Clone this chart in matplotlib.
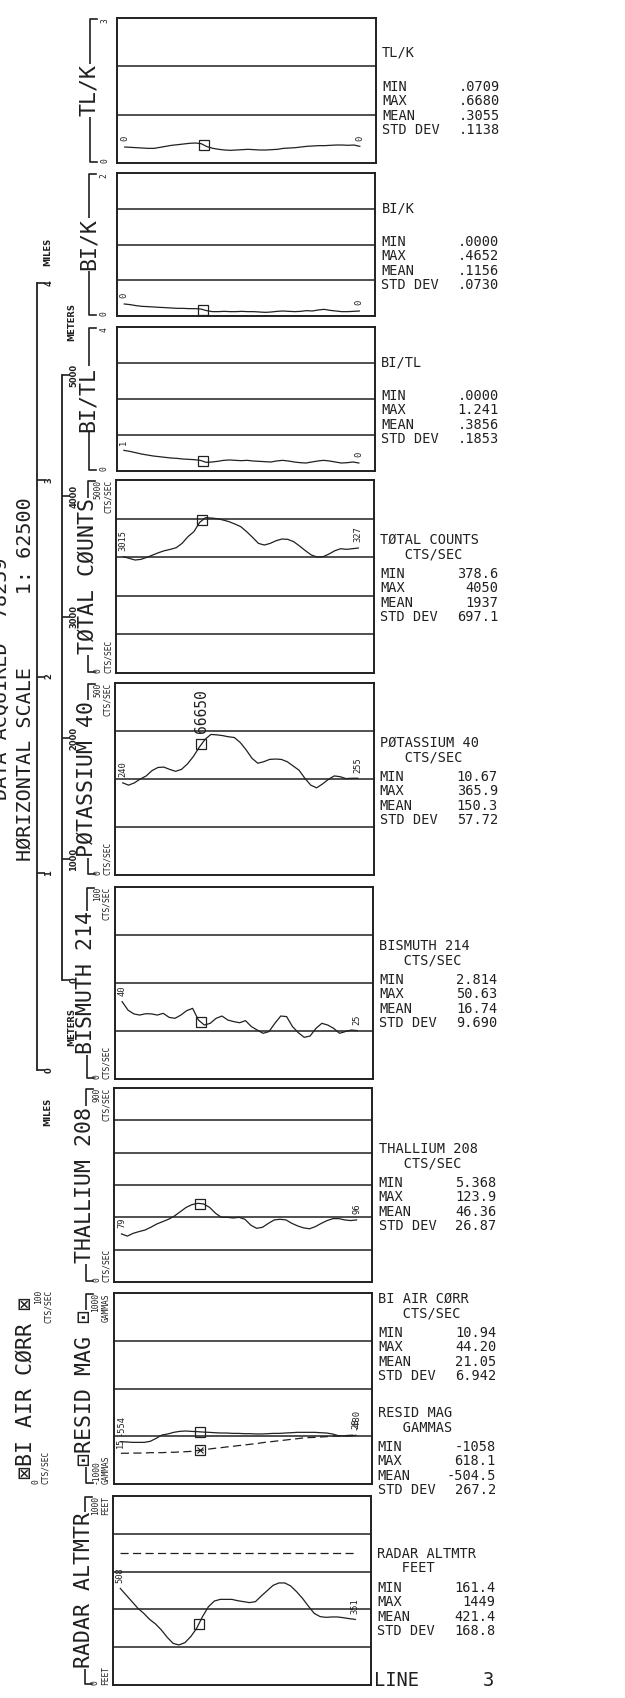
import numpy as np
import matplotlib
matplotlib.use("Agg")
import matplotlib.pyplot as plt
from matplotlib.lines import Line2D

W, H = 625, 1698
INK = '#202020'
MONO = ['DejaVu Sans Mono', 'DejaVu Sans']

# fiducial positions along the flight line (0 = first plotted sample)
fid = [0, 2.5, 5, 7.5, 10, 12.5, 15, 17.5, 20, 22.5, 25, 27.5, 30, 32.5, 35, 37.5,
       40, 42.5, 45, 47.5, 50, 52.5, 55, 57.5, 60, 62.5, 65, 67.5, 70, 72.5, 75,
       77.5, 80, 82.5, 85, 87.5, 90, 92.5, 95, 97.5, 100]
marker_fid = 33.5
marker_label = '66650'

tl_k = [.331, .324, .317, .310, .303, .303, .324, .345, .366, .379, .393, .407, .414, .400,
        .338, .303, .283, .269, .262, .269, .276, .283, .276, .269, .269, .276, .283, .303,
        .310, .317, .331, .345, .352, .359, .359, .366, .372, .372, .366, .372, .345]
bi_k = [.168, .159, .145, .135, .131, .126, .121, .117, .112, .107, .107, .103, .103, .098,
        .075, .061, .061, .065, .061, .061, .065, .061, .061, .056, .051, .056, .065, .070,
        .065, .061, .065, .075, .070, .084, .093, .079, .070, .061, .061, .065, .070]
bi_tl = [.574, .546, .509, .472, .444, .417, .398, .380, .361, .352, .333, .324, .315, .296,
         .241, .250, .269, .296, .306, .296, .287, .296, .278, .269, .259, .250, .278, .296,
         .278, .250, .231, .222, .250, .278, .296, .278, .250, .222, .231, .250, .222]
total_counts = [3013, 2970, 2927, 2944, 2996, 3056, 3117, 3168, 3203, 3246, 3358, 3531, 3660,
                3903, 4024, 4015, 3997, 3963, 3920, 3859, 3790, 3660, 3514, 3358, 3315, 3358,
                3427, 3471, 3462, 3402, 3289, 3168, 3056, 3004, 3013, 3082, 3168, 3220, 3203,
                3220, 3238]
potassium = [240, 234, 240, 250, 258, 272, 280, 281, 275, 270, 275, 289, 308, 332, 353, 366,
             365, 363, 360, 358, 345, 326, 304, 291, 295, 301, 302, 301, 295, 284, 273, 252,
             234, 227, 237, 249, 258, 256, 251, 252, 252]
bismuth = [40.3, 35.9, 33.9, 33.3, 34.0, 33.9, 33.3, 34.2, 32.1, 31.6, 33.3, 35.6, 36.8, 30.7,
           28.1, 29.0, 31.6, 32.8, 30.7, 29.9, 29.3, 30.4, 27.3, 25.5, 23.8, 24.7, 29.0, 32.8,
           32.5, 27.3, 24.1, 21.7, 22.4, 26.4, 29.0, 28.1, 26.4, 23.8, 24.7, 25.5, 25.2]
thallium = [223, 213, 226, 234, 241, 254, 269, 280, 291, 306, 326, 346, 359, 365, 362, 346,
            319, 300, 300, 297, 300, 291, 264, 249, 254, 272, 288, 291, 288, 272, 260, 251,
            247, 257, 272, 285, 294, 294, 288, 285, 288]
resid_mag = [-557, -560, -564, -564, -564, -553, -522, -487, -476, -459, -449, -445, -449,
             -452, -456, -459, -463, -466, -466, -470, -470, -473, -473, -476, -476, -473,
             -470, -470, -466, -463, -459, -459, -459, -459, -463, -466, -476, -494, -497,
             -497, -490]
bi_air = [16.1, 16.1, 16.2, 16.2, 16.2, 16.4, 16.4, 16.4, 16.6, 16.6, 16.8, 16.9, 17.1, 17.5,
          17.8, 18.3, 18.7, 19.0, 19.4, 19.7, 20.1, 20.4, 20.8, 21.1, 21.6, 22.0, 22.3, 22.7,
          23.0, 23.4, 23.7, 24.1, 24.3, 24.4, 24.6, 24.8, 25.0, 25.1, 25.3, 25.5, 25.7]
radar_alt = [511, 476, 441, 406, 379, 347, 323, 291, 252, 220, 212, 224, 256, 300, 362, 414,
             444, 453, 453, 453, 446, 441, 436, 441, 471, 499, 527, 540, 540, 524, 494, 459,
             418, 379, 362, 358, 360, 360, 356, 351, 347]
radar_ref = 700

stat_names = ['MIN', 'MAX', 'MEAN', 'STD DEV']
tl_k_stats = ['.0709', '.6680', '.3055', '.1138']
bi_k_stats = ['.0000', '.4652', '.1156', '.0730']
bi_tl_stats = ['.0000', '1.241', '.3856', '.1853']
total_stats = ['378.6', '4050', '1937', '697.1']
k40_stats = ['10.67', '365.9', '150.3', '57.72']
bi214_stats = ['2.814', '50.63', '16.74', '9.690']
tl208_stats = ['5.368', '123.9', '46.36', '26.87']
biair_stats = ['10.94', '44.20', '21.05', '6.942']
mag_stats = ['-1058', '618.1', '-504.5', '267.2']
radar_stats = ['161.4', '1449', '421.4', '168.8']

miles = [0, 1, 2, 3, 4]
meters = [0, 1000, 2000, 3000, 4000, 5000]


def skew(y):
    # the scanned sheet leans a few pixels to the left towards the bottom
    return -5.0 * (y - 18) / 1667


fig = plt.figure(figsize=(W / 100, H / 100), dpi=100)
fig.patch.set_facecolor('white')


def txt(x, y, s, **kw):
    kw.setdefault('family', MONO)
    kw.setdefault('color', INK)
    return fig.text(x / W, 1 - y / H, s, **kw)


def fig_line(xs, ys, **kw):
    fig.add_artist(Line2D([x / W for x in xs], [1 - y / H for y in ys],
                          transform=fig.transFigure, color=INK, **kw))


def make_panel(top, bot, lim, ndiv):
    s = skew((top + bot) / 2)
    left, right = 117.7 + s, 376 + s
    ax = fig.add_axes([left / W, 1 - bot / H, (right - left) / W, (bot - top) / H])
    ax.set_xlim(-3.1, 106.8)
    ax.set_ylim(*lim)
    ax.set_yticks(np.linspace(lim[0], lim[1], ndiv + 1)[1:-1])
    ax.set_xticks([])
    ax.tick_params(length=0, labelleft=False)
    ax.grid(axis='y', color=INK, lw=1.1)
    for sp in ax.spines.values():
        sp.set_linewidth(1.4)
        sp.set_color(INK)
    return ax


def profile(ax, vals, start, end, dashed=False, cross=False):
    ls = (0, (6.5, 3.5)) if dashed else '-'
    ax.plot(fid, vals, color=INK, lw=0.9, ls=ls)
    my = np.interp(marker_fid, fid, vals)
    ax.plot(marker_fid, my, 's', ms=6.5, mfc='none', mec=INK, mew=0.9)
    if cross:
        ax.plot(marker_fid, my, 'x', ms=4.5, mec=INK, mew=0.8)
    kw = dict(textcoords='offset points', rotation=90, ha='center', va='bottom',
              fontsize=6.3, family=MONO, color=INK)
    ax.annotate(start, (fid[0], vals[0]), xytext=(0, 4), **kw)
    ax.annotate(end, (fid[-1], vals[-1]), xytext=(0, 4), **kw)
    return my


def left_label(top, bot, text, top_unit, bot_unit, size=15.5):
    s = skew((top + bot) / 2)
    xl = 90 + s
    fig_line([xl + 7, xl, xl, xl + 7], [top + 1, top + 1, bot - 1, bot - 1], lw=1.2)
    txt(xl - 1, (top + bot) / 2, text, rotation=90, ha='center', va='center',
        fontsize=size, bbox=dict(fc='white', ec='none', pad=0.5))
    txt(105 + s, top, top_unit, rotation=90, ha='center', va='top', fontsize=5.7,
        multialignment='right', linespacing=1.1)
    txt(105 + s, bot, bot_unit, rotation=90, ha='center', va='bottom', fontsize=5.7,
        multialignment='left', linespacing=1.1)


def right_block(lines, stats, ty):
    s = skew(ty)
    for i, line in enumerate(lines):
        txt(382 + s, ty + 14.5 * i, line, ha='left', va='center', fontsize=9.8)
    for i, (name, val) in enumerate(zip(stat_names, stats)):
        y = ty + 34 + 14.3 * i
        txt(382 + s, y, name, ha='left', va='center', fontsize=9.8)
        txt(500 + s, y, val, ha='right', va='center', fontsize=9.8)


# ---- ratio panels
ax = make_panel(18, 163, (0, 3), 3)
profile(ax, tl_k, '0', '0')
left_label(18, 163, 'TL/K', '3', '0')

ax = make_panel(173, 316, (0, 2), 4)
profile(ax, bi_k, '0', '0')
left_label(173, 316, 'BI/K', '2', '0')

ax = make_panel(327, 471, (0, 4), 4)
profile(ax, bi_tl, '1', '0')
left_label(327, 471, 'BI/TL', '4', '0')

# ---- radiometric channels
ax = make_panel(480, 673, (0, 5000), 5)
profile(ax, total_counts, '3015', '327')
left_label(480, 673, 'TØTAL CØUNTS', '5000\nCTS/SEC', '0\nCTS/SEC')

ax = make_panel(683, 875, (0, 500), 4)
my = profile(ax, potassium, '240', '255')
ax.annotate(marker_label, (marker_fid, my), xytext=(0, 8), textcoords='offset points',
            rotation=90, ha='center', va='bottom', fontsize=10.5, family=MONO, color=INK)
left_label(683, 875, 'PØTASSIUM 40', '500\nCTS/SEC', '0\nCTS/SEC')

ax = make_panel(887, 1079, (0, 100), 4)
profile(ax, bismuth, '40', '25')
left_label(887, 1079, 'BISMUTH 214', '100\nCTS/SEC', '0\nCTS/SEC')

ax = make_panel(1088, 1282, (0, 900), 6)
profile(ax, thallium, '79', '96')
left_label(1088, 1282, 'THALLIUM 208', '900\nCTS/SEC', '0\nCTS/SEC')

# ---- magnetics + bismuth air correction
ax = make_panel(1293, 1484, (-1000, 1000), 4)
profile(ax, resid_mag, '-554', '-480')
ax2 = ax.twinx()
ax2.set_ylim(0, 100)
ax2.axis('off')
profile(ax2, bi_air, '15', '28', dashed=True, cross=True)
left_label(1293, 1484, '⊡RESID MAG ⊡', '1000\nGAMMAS', '-1000\nGAMMAS')
s8 = skew(1390)
txt(30 + s8, 1388, '⊠BI AIR CØRR ⊠', rotation=90, ha='center', va='center', fontsize=15.5)
txt(48 + s8, 1290, '100\nCTS/SEC', rotation=90, ha='center', va='top', fontsize=5.7,
    multialignment='right', linespacing=1.1)
txt(45 + s8, 1484, '0\nCTS/SEC', rotation=90, ha='center', va='bottom', fontsize=5.7,
    multialignment='left', linespacing=1.1)

# ---- radar altimeter
ax = make_panel(1496, 1685, (0, 1000), 5)
ax.plot([fid[0], fid[-1]], [radar_ref, radar_ref], color=INK, lw=0.9, ls=(0, (6.5, 3.5)))
profile(ax, radar_alt, '508', '351')
left_label(1496, 1685, 'RADAR ALTMTR', '1000\nFEET', '0\nFEET')

# ---- statistics column
right_block(['TL/K'], tl_k_stats, 53)
right_block(['BI/K'], bi_k_stats, 208)
right_block(['BI/TL'], bi_tl_stats, 362)
right_block(['TØTAL COUNTS', '   CTS/SEC'], total_stats, 540)
right_block(['PØTASSIUM 40', '   CTS/SEC'], k40_stats, 743)
right_block(['BISMUTH 214', '   CTS/SEC'], bi214_stats, 946)
right_block(['THALLIUM 208', '   CTS/SEC'], tl208_stats, 1149)
right_block(['BI AIR CØRR', '   CTS/SEC'], biair_stats, 1299)
right_block(['RESID MAG', '   GAMMAS'], mag_stats, 1413)
right_block(['RADAR ALTMTR', '   FEET'], radar_stats, 1554)
sl = skew(1680)
txt(379 + sl, 1680, 'LINE', ha='left', va='center', fontsize=13.5)
txt(499 + sl, 1680, '3', ha='right', va='center', fontsize=13.5)

# ---- horizontal scale bars
sb = fig.add_axes([37 / W, 1 - 1070 / H, 6 / W, (1070 - 283) / H])
sb.set_ylim(miles[0], miles[-1])
sb.set_yticks(miles)
sb.set_yticklabels([str(m) for m in miles])
mb = fig.add_axes([62 / W, 1 - 980 / H, 6 / W, (980 - 375) / H])
mb.set_ylim(meters[0], meters[-1])
mb.set_yticks(meters)
mb.set_yticklabels([str(m) for m in meters])
for a in (sb, mb):
    a.patch.set_alpha(0)
    a.set_xticks([])
    for k in ('top', 'right', 'bottom'):
        a.spines[k].set_visible(False)
    a.spines['left'].set_linewidth(1.3)
    a.spines['left'].set_color(INK)
    a.tick_params(axis='y', direction='in', length=6, width=1.2, color=INK, left=True,
                  right=False, labelleft=False, labelright=True, labelrotation=90,
                  labelsize=6, pad=1, labelcolor=INK)
    for t in a.get_yticklabels():
        t.set_fontweight('bold')
        t.set_verticalalignment('center')

for y in (252, 1112):
    txt(48, y, 'MILES', rotation=90, ha='center', va='center', fontsize=6,
        family='DejaVu Sans', fontweight='bold')
for y in (322, 1027):
    txt(72, y, 'METERS', rotation=90, ha='center', va='center', fontsize=6,
        family='DejaVu Sans', fontweight='bold')

# ---- titles along the left edge
txt(1, 679, 'DATA ACQUIRED  78259', rotation=90, ha='center', va='center', fontsize=14.5)
txt(25, 679, 'HØRIZONTAL SCALE      1: 62500', rotation=90, ha='center', va='center',
    fontsize=14.5)

fig.savefig('out.png', dpi=100, facecolor='white')
